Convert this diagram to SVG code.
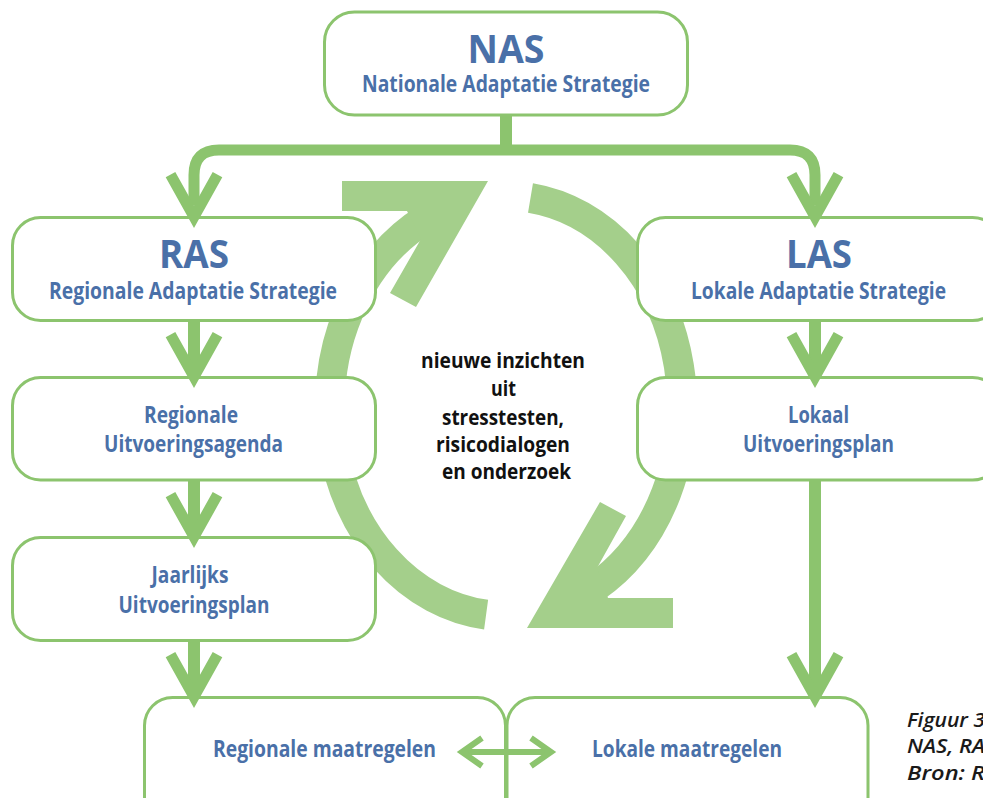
<svg xmlns="http://www.w3.org/2000/svg" width="983" height="798" viewBox="0 0 983 798">
<style>
.box{fill:#fff;stroke:#8cc46e;stroke-width:3}
.t{font-family:"Open Sans","DejaVu Sans",sans-serif;font-weight:700;fill:#4a70a8;text-anchor:middle}
.big{font-size:40px}
.sub{font-size:23px}
.ctr{font-family:"Open Sans","DejaVu Sans",sans-serif;font-weight:700;fill:#111;text-anchor:middle;font-size:21px}
.cap{font-family:"Open Sans","DejaVu Sans",sans-serif;font-weight:600;font-style:italic;fill:#1a1a1a;font-size:19px}
.line{fill:none;stroke:#8cc46e;stroke-width:12}
.thin{fill:none;stroke:#8cc46e;stroke-width:6;stroke-linejoin:miter}
.chev{fill:#8cc46e}
.ring{fill:none;stroke:#a4cf8b;stroke-width:30}
.ringhead{fill:#a4cf8b}
</style>
<defs>
<path id="chev" d="M0 0 L-28.3 -50.7 L-18.7 -56 L0 -22.5 L18.7 -56 L28.3 -50.7 Z"/>
</defs>
<rect width="983" height="798" fill="#fff"/>
<g id="cycle">
<path class="ring" d="M 530.5 198 A 176 210 0 0 1 594 587.9"/>
<path class="ring" d="M 486.1 614.7 A 176 210 0 0 1 426.1 218.9"/>
<polygon class="ringhead" points="527,628 600,502 626,516 597,568 608,598 673,598 673,628"/>
<polygon class="ringhead" points="342,181 488,181 416,307 390,293 421,239 407,211 342,211"/>
</g>
<g id="NAS">
<rect class="box" x="324.5" y="12" width="363" height="103" rx="30"/>
<text class="t big" x="506" y="63" textLength="77" lengthAdjust="spacingAndGlyphs">NAS</text>
<text class="t sub" x="506" y="92" textLength="288" lengthAdjust="spacingAndGlyphs">Nationale Adaptatie Strategie</text>
</g>
<g id="RAS">
<rect class="box" x="12.5" y="217.5" width="363" height="103" rx="28"/>
<text class="t big" x="194" y="268" textLength="70" lengthAdjust="spacingAndGlyphs">RAS</text>
<text class="t sub" x="193" y="299" textLength="288" lengthAdjust="spacingAndGlyphs">Regionale Adaptatie Strategie</text>
</g>
<g id="RUA">
<rect class="box" x="12.5" y="377.5" width="363" height="102.5" rx="28"/>
<text class="t sub" x="191" y="423" textLength="94" lengthAdjust="spacingAndGlyphs">Regionale</text>
<text class="t sub" x="193.5" y="452" textLength="179" lengthAdjust="spacingAndGlyphs">Uitvoeringsagenda</text>
</g>
<g id="JUP">
<rect class="box" x="12.5" y="537.5" width="363" height="103" rx="28"/>
<text class="t sub" x="190" y="583" textLength="77" lengthAdjust="spacingAndGlyphs">Jaarlijks</text>
<text class="t sub" x="194" y="613" textLength="151" lengthAdjust="spacingAndGlyphs">Uitvoeringsplan</text>
</g>
<g id="LAS">
<rect class="box" x="637.5" y="217.5" width="363" height="103" rx="28"/>
<text class="t big" x="819" y="268" textLength="66" lengthAdjust="spacingAndGlyphs">LAS</text>
<text class="t sub" x="818.5" y="299" textLength="255" lengthAdjust="spacingAndGlyphs">Lokale Adaptatie Strategie</text>
</g>
<g id="LUP">
<rect class="box" x="637.5" y="377.5" width="363" height="102.5" rx="28"/>
<text class="t sub" x="818.5" y="423" textLength="61" lengthAdjust="spacingAndGlyphs">Lokaal</text>
<text class="t sub" x="818.5" y="452" textLength="151" lengthAdjust="spacingAndGlyphs">Uitvoeringsplan</text>
</g>
<g id="RM">
<rect class="box" x="144.5" y="697.5" width="361" height="140" rx="28"/>
<text class="t sub" x="324.5" y="757" textLength="223" lengthAdjust="spacingAndGlyphs">Regionale maatregelen</text>
</g>
<g id="LM">
<rect class="box" x="507" y="697.5" width="361" height="140" rx="28"/>
<text class="t sub" x="687" y="757" textLength="190" lengthAdjust="spacingAndGlyphs">Lokale maatregelen</text>
</g>
<g id="center-text">
<text class="ctr" x="503" y="368" textLength="164" lengthAdjust="spacingAndGlyphs">nieuwe inzichten</text>
<text class="ctr" x="503.5" y="396" textLength="25" lengthAdjust="spacingAndGlyphs">uit</text>
<text class="ctr" x="503" y="425" textLength="122" lengthAdjust="spacingAndGlyphs">stresstesten,</text>
<text class="ctr" x="503" y="452" textLength="134" lengthAdjust="spacingAndGlyphs">risicodialogen</text>
<text class="ctr" x="506.5" y="479" textLength="129" lengthAdjust="spacingAndGlyphs">en onderzoek</text>
</g>
<g id="connectors">
<path class="line" stroke-width="11" d="M 506 115 V 150"/>
<path class="line" style="stroke-width:11" d="M 194 205 V 175 Q 194 150 219 150 H 790 Q 815 150 815 175 V 205"/>
<path class="line" d="M 194 320 V 370"/>
<path class="line" d="M 194 480 V 530"/>
<path class="line" d="M 194 641 V 690"/>
<path class="line" d="M 815 320 V 370"/>
<path class="line" d="M 815 480 V 690"/>
<use href="#chev" class="chev" x="194" y="228"/>
<use href="#chev" class="chev" x="815" y="228"/>
<use href="#chev" class="chev" x="194" y="388"/>
<use href="#chev" class="chev" x="194" y="548"/>
<use href="#chev" class="chev" x="194" y="708"/>
<use href="#chev" class="chev" x="815" y="388"/>
<use href="#chev" class="chev" x="815" y="708"/>
<path class="thin" d="M 461 752 H 552"/>
<polyline class="thin" points="482,738 462,752 482,766"/>
<polyline class="thin" points="531,738 551,752 531,766"/>
</g>
<g id="caption">
<text class="cap" x="907" y="727" textLength="78" lengthAdjust="spacingAndGlyphs">Figuur 3</text>
<text class="cap" x="907" y="753" textLength="78" lengthAdjust="spacingAndGlyphs">NAS, RA</text>
<text class="cap" x="907" y="780" textLength="78" lengthAdjust="spacingAndGlyphs">Bron: R</text>
</g>
</svg>
